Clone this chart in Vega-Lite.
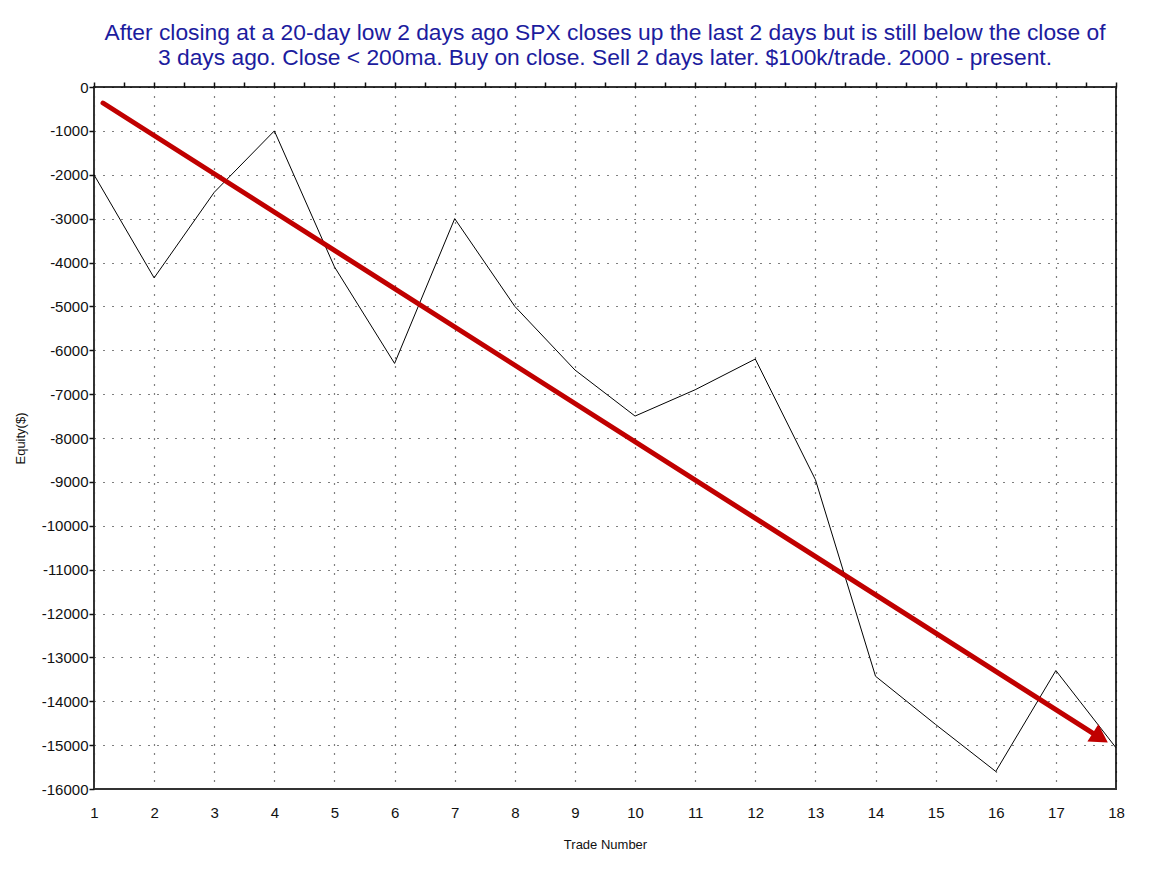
{
  "$schema": "https://vega.github.io/schema/vega-lite/v6.json",
  "width": 1022,
  "height": 702,
  "autosize": {"type": "none"},
  "padding": {"left": 94, "top": 87, "right": 33, "bottom": 83},
  "background": "white",
  "title": {
    "text": ["After closing at a 20-day low 2 days ago SPX closes up the last 2 days but is still below the close of", "3 days ago. Close < 200ma. Buy on close. Sell 2 days later. $100k/trade. 2000 - present."],
    "font": "Liberation Sans",
    "fontSize": 22.8,
    "fontWeight": "normal",
    "color": "#1c1c9e",
    "anchor": "middle",
    "frame": "group",
    "offset": 10,
    "lineHeight": 25
  },
  "config": {
    "font": "Liberation Sans",
    "view": {"stroke": "#333333", "strokeWidth": 2},
    "axis": {
      "labelFont": "Liberation Sans",
      "labelFontSize": 15,
      "labelColor": "#111111",
      "titleFont": "Liberation Sans",
      "titleFontSize": 13,
      "titleFontWeight": "normal",
      "titleColor": "#111111",
      "domainColor": "#333333",
      "tickColor": "#111111",
      "gridColor": "#000000",
      "gridDash": [1, 8],
      "gridWidth": 1.2
    }
  },
  "datasets": {
    "equity": [
      {"trade": 1, "equity": -2000},
      {"trade": 2, "equity": -4350},
      {"trade": 3, "equity": -2400},
      {"trade": 4, "equity": -1000},
      {"trade": 5, "equity": -4100},
      {"trade": 6, "equity": -6300},
      {"trade": 7, "equity": -3000},
      {"trade": 8, "equity": -5000},
      {"trade": 9, "equity": -6450},
      {"trade": 10, "equity": -7500},
      {"trade": 11, "equity": -6900},
      {"trade": 12, "equity": -6200},
      {"trade": 13, "equity": -8950},
      {"trade": 14, "equity": -13430},
      {"trade": 15, "equity": -14530},
      {"trade": 16, "equity": -15600},
      {"trade": 17, "equity": -13300},
      {"trade": 18, "equity": -15060}
    ],
    "arrow": [{"x": 1.15, "y": -365, "x2": 17.6, "y2": -14715}],
    "head": [{"x": 17.74, "y": -14830}]
  },
  "layer": [
    {
      "data": {"name": "equity"},
      "mark": {"type": "line", "color": "#000000", "strokeWidth": 1},
      "encoding": {
        "x": {
          "field": "trade",
          "type": "quantitative",
          "scale": {"domain": [1, 18], "nice": false, "zero": false},
          "axis": {
            "title": "Trade Number",
            "values": [1, 2, 3, 4, 5, 6, 7, 8, 9, 10, 11, 12, 13, 14, 15, 16, 17, 18],
            "format": "d",
            "ticks": false,
            "labelPadding": 16,
            "titlePadding": 18,
            "grid": true,
            "labelFlush": false
          }
        },
        "y": {
          "field": "equity",
          "type": "quantitative",
          "scale": {"domain": [-16000, 0], "nice": false, "zero": false},
          "axis": {
            "title": "Equity($)",
            "values": [-16000, -15500, -15000, -14500, -14000, -13500, -13000, -12500, -12000, -11500, -11000, -10500, -10000, -9500, -9000, -8500, -8000, -7500, -7000, -6500, -6000, -5500, -5000, -4500, -4000, -3500, -3000, -2500, -2000, -1500, -1000, -500, 0],
            "labelExpr": "datum.value % 1000 === 0 ? '' + datum.value : ''",
            "tickSize": 5,
            "tickWidth": 1.5,
            "labelPadding": 1,
            "titlePadding": 14,
            "labelFlush": false,
            "gridOpacity": {"condition": {"test": "datum.value % 1000 === 0", "value": 1}, "value": 0}
          }
        }
      }
    },
    {
      "data": {"name": "arrow"},
      "mark": {"type": "rule", "color": "#c00000", "strokeWidth": 5, "strokeCap": "round"},
      "encoding": {
        "x": {
          "field": "x",
          "type": "quantitative",
          "axis": {
            "orient": "top",
            "title": null,
            "labels": false,
            "grid": false,
            "domain": false,
            "values": [1, 1.5, 2, 2.5, 3, 3.5, 4, 4.5, 5, 5.5, 6, 6.5, 7, 7.5, 8, 8.5, 9, 9.5, 10, 10.5, 11, 11.5, 12, 12.5, 13, 13.5, 14, 14.5, 15, 15.5, 16, 16.5, 17, 17.5, 18],
            "tickSize": 5,
            "tickWidth": 1.5
          }
        },
        "y": {"field": "y", "type": "quantitative"},
        "x2": {"field": "x2"},
        "y2": {"field": "y2"}
      }
    },
    {
      "data": {"name": "head"},
      "mark": {"type": "point", "shape": "triangle-right", "filled": true, "color": "#c00000", "opacity": 1, "size": 420, "angle": 32.5},
      "encoding": {
        "x": {"field": "x", "type": "quantitative", "axis": null},
        "y": {"field": "y", "type": "quantitative"}
      }
    }
  ],
  "resolve": {"axis": {"x": "independent"}}
}
